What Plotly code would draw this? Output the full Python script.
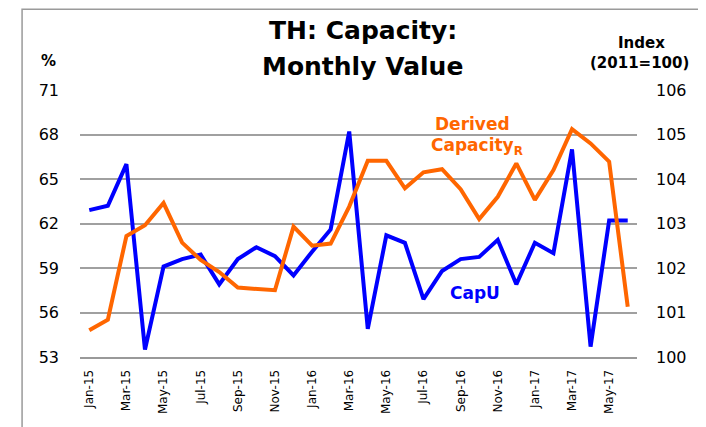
import plotly.graph_objects as go

months = ["Jan-15","Feb-15","Mar-15","Apr-15","May-15","Jun-15","Jul-15","Aug-15","Sep-15","Oct-15","Nov-15","Dec-15",
          "Jan-16","Feb-16","Mar-16","Apr-16","May-16","Jun-16","Jul-16","Aug-16","Sep-16","Oct-16","Nov-16","Dec-16",
          "Jan-17","Feb-17","Mar-17","Apr-17","May-17","Jun-17"]

capu = [62.9, 63.2, 66.0, 53.5, 59.1, 59.6, 59.9, 57.9, 59.6, 60.4, 59.8, 58.5,
        60.1, 61.6, 68.2, 54.9, 61.2, 60.7, 56.9, 58.8, 59.6, 59.75, 60.9, 57.9,
        60.7, 60.0, 67.0, 53.7, 62.2, 62.2]

derived_capacity = [100.6, 100.84, 102.72, 102.96, 103.46, 102.57, 102.18, 101.91, 101.56, 101.52, 101.5, 102.93,
                    102.5, 102.55, 103.38, 104.41, 104.41, 103.79, 104.15, 104.22, 103.77, 103.1, 103.6, 104.35,
                    103.53, 104.2, 105.12, 104.8, 104.39, 101.13]

left_ticks = [53, 56, 59, 62, 65, 68, 71]
right_ticks = [100, 101, 102, 103, 104, 105, 106]
shown_labels = months[::2]

BLUE = "#0000FF"
ORANGE = "#FF6600"
FONT = "DejaVu Sans, Arial, sans-serif"

fig = go.Figure()
fig.add_trace(go.Scatter(x=months, y=derived_capacity, yaxis="y2", mode="lines",
                         line=dict(color=ORANGE, width=4), name="Derived Capacity"))
fig.add_trace(go.Scatter(x=months, y=capu, yaxis="y", mode="lines",
                         line=dict(color=BLUE, width=4), name="CapU"))

fig.update_layout(
    width=698, height=419,
    margin=dict(l=72, r=69, t=82, b=70, autoexpand=False),
    paper_bgcolor="white", plot_bgcolor="white",
    showlegend=False,
    font=dict(family=FONT, color="black"),
    xaxis=dict(type="category", categoryorder="array", categoryarray=months,
               range=[-0.5, 29.5], tickmode="array", tickvals=shown_labels, ticktext=shown_labels,
               tickangle=-90, tickfont=dict(size=12, family=FONT), showgrid=False, automargin=False,
               showline=True, linecolor="#999999", linewidth=2, ticks="", zeroline=False,
               ticklabelstandoff=6),
    yaxis=dict(range=[53, 71], tickvals=left_ticks, tickfont=dict(size=16, family=FONT),
               showgrid=True, gridcolor="#a0a0a0", gridwidth=1.5, zeroline=False, automargin=False,
               showline=False, ticks="", ticklabelstandoff=20),
    yaxis2=dict(range=[100, 106], tickvals=right_ticks, tickfont=dict(size=16, family=FONT),
                overlaying="y", side="right", showgrid=False, zeroline=False, automargin=False,
                showline=False, ticks="", ticklabelstandoff=18),
)

annotations = [
    dict(x=0.508, y=1.221, text="<b>TH: Capacity:</b>", font=dict(size=25)),
    dict(x=0.508, y=1.088, text="<b>Monthly Value</b>", font=dict(size=25)),
    dict(x=-0.057, y=1.11, text="<b>%</b>", font=dict(size=15)),
    dict(x=1.008, y=1.176, text="<b>Index</b>", font=dict(size=15)),
    dict(x=1.005, y=1.10, text="<b>(2011=100)</b>", font=dict(size=15)),
    dict(x=0.705, y=0.874, text="<b>Derived</b>", font=dict(size=17, color=ORANGE)),
    dict(x=0.712, y=0.79, text="<b>Capacity<sub>R</sub></b>", font=dict(size=17, color=ORANGE)),
    dict(x=0.710, y=0.241, text="<b>CapU</b>", font=dict(size=17, color=BLUE)),
]
for a in annotations:
    fig.add_annotation(xref="paper", yref="paper", showarrow=False, xanchor="center", yanchor="middle", **a)

fig.add_shape(type="rect", xref="paper", yref="paper", x0=-0.104, x1=1.113, y0=-0.3, y1=1.302,
              line=dict(color="#9a9a9a", width=1.5), fillcolor="rgba(0,0,0,0)", layer="below")

fig.write_html("out.html")
